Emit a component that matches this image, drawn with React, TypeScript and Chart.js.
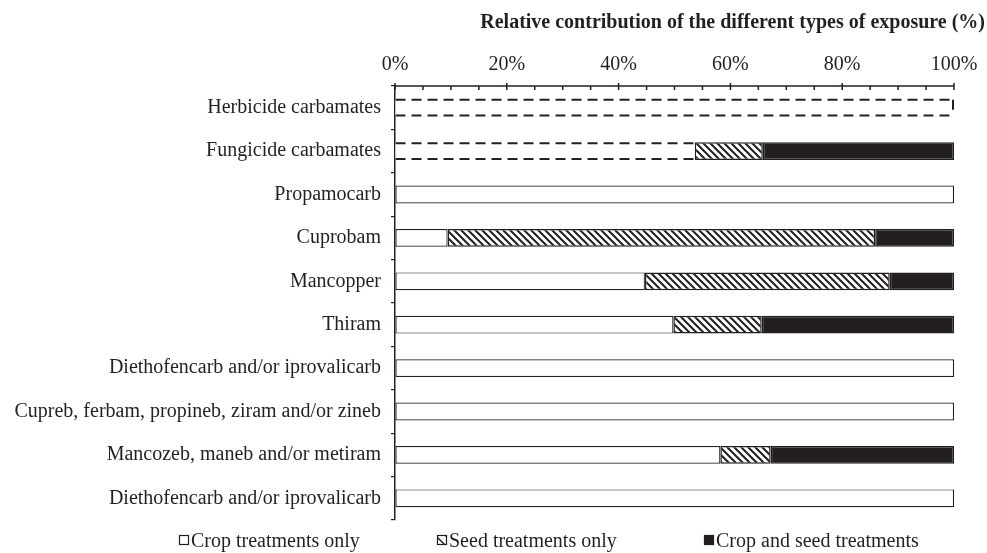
import React, { useEffect, useRef } from "react";
import { Chart, registerables } from "chart.js";

Chart.register(...registerables);

const categories = [
  "Herbicide carbamates",
  "Fungicide carbamates",
  "Propamocarb",
  "Cuprobam",
  "Mancopper",
  "Thiram",
  "Diethofencarb and/or iprovalicarb",
  "Cupreb, ferbam, propineb, ziram and/or zineb",
  "Mancozeb, maneb and/or metiram",
  "Diethofencarb and/or iprovalicarb",
];
const cropOnly = [100, 53.6, 100, 9.4, 44.7, 49.8, 100, 100, 58.2, 100];
const seedOnly = [0, 12.2, 0, 76.5, 43.8, 15.8, 0, 0, 9.0, 0];
const cropAndSeed = [0, 34.2, 0, 14.1, 11.5, 34.4, 0, 0, 32.8, 0];
const dashedRows = [0, 1];
const seriesLabels = ["Crop treatments only", "Seed treatments only", "Crop and seed treatments"];
const axisTitle = "Relative contribution of the different types of exposure (%)";
const majorTickStep = 20;
const minorTickStep = 5;

const FONT = '"Liberation Serif", "Times New Roman", serif';
const INK = "#231f20";

function makeHatch(size: number, lw: number): CanvasPattern | string {
  const c = document.createElement("canvas");
  c.width = size;
  c.height = size;
  const g = c.getContext("2d");
  if (!g) return "#888";
  g.fillStyle = "#fff";
  g.fillRect(0, 0, size, size);
  g.strokeStyle = INK;
  g.lineWidth = lw;
  g.beginPath();
  g.moveTo(-1, -1);
  g.lineTo(size + 1, size + 1);
  g.moveTo(-1, size - 1);
  g.lineTo(1, size + 1);
  g.moveTo(size - 1, -1);
  g.lineTo(size + 1, 1);
  g.stroke();
  const p = g.createPattern(c, "repeat");
  return p || "#888";
}

export default function App() {
  const ref = useRef<HTMLCanvasElement | null>(null);

  useEffect(() => {
    if (!ref.current) return;
    const hatch = makeHatch(7, 2);
    const smallHatch = makeHatch(10, 1.5);

    const overlay = {
      id: "overlay",
      afterDatasetsDraw(chart: any) {
        const { ctx, chartArea } = chart;
        const meta = chart.getDatasetMeta(0);
        ctx.save();
        ctx.strokeStyle = INK;
        ctx.lineWidth = 2;
        ctx.setLineDash([10, 6]);
        dashedRows.forEach((i) => {
          const el: any = meta.data[i];
          if (!el) return;
          const { x, y, base, height } = el.getProps(["x", "y", "base", "height"], true);
          const l = Math.min(x, base);
          const r = Math.max(x, base);
          ctx.beginPath();
          ctx.moveTo(l, y - height / 2 + 1);
          ctx.lineTo(r - 1, y - height / 2 + 1);
          ctx.moveTo(l, y + height / 2 - 1);
          ctx.lineTo(r - 1, y + height / 2 - 1);
          if (r >= chartArea.right - 1) {
            ctx.moveTo(r - 1, y - height / 2 + 1);
            ctx.lineTo(r - 1, y + height / 2 - 1);
          }
          ctx.stroke();
        });
        ctx.restore();
      },
      afterDraw(chart: any) {
        const { ctx, chartArea, scales } = chart;
        const x = scales.x;
        const top = chartArea.top;
        ctx.save();
        ctx.strokeStyle = INK;
        ctx.lineWidth = 1.5;
        ctx.beginPath();
        ctx.moveTo(chartArea.left, top);
        ctx.lineTo(chartArea.right, top);
        x.ticks.forEach((t: any) => {
          const px = x.getPixelForValue(t.value);
          const major = t.value % majorTickStep === 0;
          ctx.moveTo(px, major ? top - 3 : top);
          ctx.lineTo(px, top + 4);
        });
        ctx.stroke();

        // title
        ctx.fillStyle = INK;
        ctx.font = `bold 20px ${FONT}`;
        ctx.textAlign = "right";
        ctx.textBaseline = "alphabetic";
        ctx.fillText(axisTitle, 985, 28);

        // legend
        const ly = chartArea.bottom + 21;
        const xs = [179, 437, 704];
        ctx.font = `20px ${FONT}`;
        ctx.textAlign = "left";
        ctx.textBaseline = "middle";
        seriesLabels.forEach((lab, i) => {
          const bx = xs[i];
          const bs = 10;
          const by = ly - bs / 2 - 1;
          if (i === 0) {
            ctx.fillStyle = "#fff";
            ctx.fillRect(bx, by, bs, bs);
          } else if (i === 1) {
            ctx.fillStyle = smallHatch as any;
            ctx.fillRect(bx, by, bs, bs);
          } else {
            ctx.fillStyle = INK;
            ctx.fillRect(bx, by, bs, bs);
          }
          ctx.lineWidth = 1.2;
          ctx.strokeStyle = INK;
          ctx.strokeRect(bx + 0.5, by + 0.5, bs - 1, bs - 1);
          ctx.fillStyle = INK;
          ctx.fillText(lab, bx + bs + 2, ly + 1);
        });
        ctx.restore();
      },
    };

    const bw = (c: any) => (c.raw === 0 ? 0 : 1.5);

    const chart = new Chart(ref.current, {
      type: "bar",
      data: {
        labels: categories,
        datasets: [
          {
            label: seriesLabels[0],
            data: cropOnly,
            backgroundColor: "#ffffff",
            borderColor: INK,
            borderWidth: (c: any) => (dashedRows.includes(c.dataIndex) || c.raw === 0 ? 0 : 1.2),
            borderSkipped: false,
          },
          {
            label: seriesLabels[1],
            data: seedOnly,
            backgroundColor: hatch as any,
            borderColor: INK,
            borderWidth: bw,
            borderSkipped: false,
          },
          {
            label: seriesLabels[2],
            data: cropAndSeed,
            backgroundColor: INK,
            borderColor: INK,
            borderWidth: bw,
            borderSkipped: false,
          },
        ],
      },
      options: {
        indexAxis: "y",
        animation: false,
        responsive: false,
        maintainAspectRatio: false,
        layout: { padding: { top: 40, left: 0, right: 33, bottom: 33 } },
        datasets: { bar: { categoryPercentage: 1, barPercentage: 0.41 } },
        plugins: {
          legend: { display: false },
          title: { display: false },
          tooltip: { enabled: false },
        },
        scales: {
          x: {
            position: "top",
            stacked: true,
            min: 0,
            max: 100,
            ticks: {
              stepSize: minorTickStep,
              autoSkip: false,
              maxRotation: 0,
              padding: 5,
              color: INK,
              font: { family: FONT, size: 20 },
              callback: (v: any) => (Number(v) % majorTickStep === 0 ? `${v}%` : ""),
            },
            grid: { display: true, drawOnChartArea: false, tickLength: 4, color: "rgba(0,0,0,0)" },
            border: { display: false },
            afterFit: (s: any) => {
              s.height = 46;
            },
          },
          y: {
            stacked: true,
            ticks: {
              padding: 10,
              autoSkip: false,
              color: INK,
              font: { family: FONT, size: 20 },
            },
            grid: { display: true, drawOnChartArea: false, offset: true, tickLength: 4, color: INK, lineWidth: 1.2 },
            border: { display: true, color: INK, width: 1.5 },
            afterFit: (s: any) => {
              s.width = 395;
            },
          },
        },
      },
      plugins: [overlay],
    } as any);

    return () => chart.destroy();
  }, []);

  return (
    <div style={{ position: "absolute", left: 0, top: 0, width: 987, height: 553, background: "#fff" }}>
      <canvas ref={ref} width={987} height={553} style={{ width: 987, height: 553, display: "block" }} />
    </div>
  );
}
